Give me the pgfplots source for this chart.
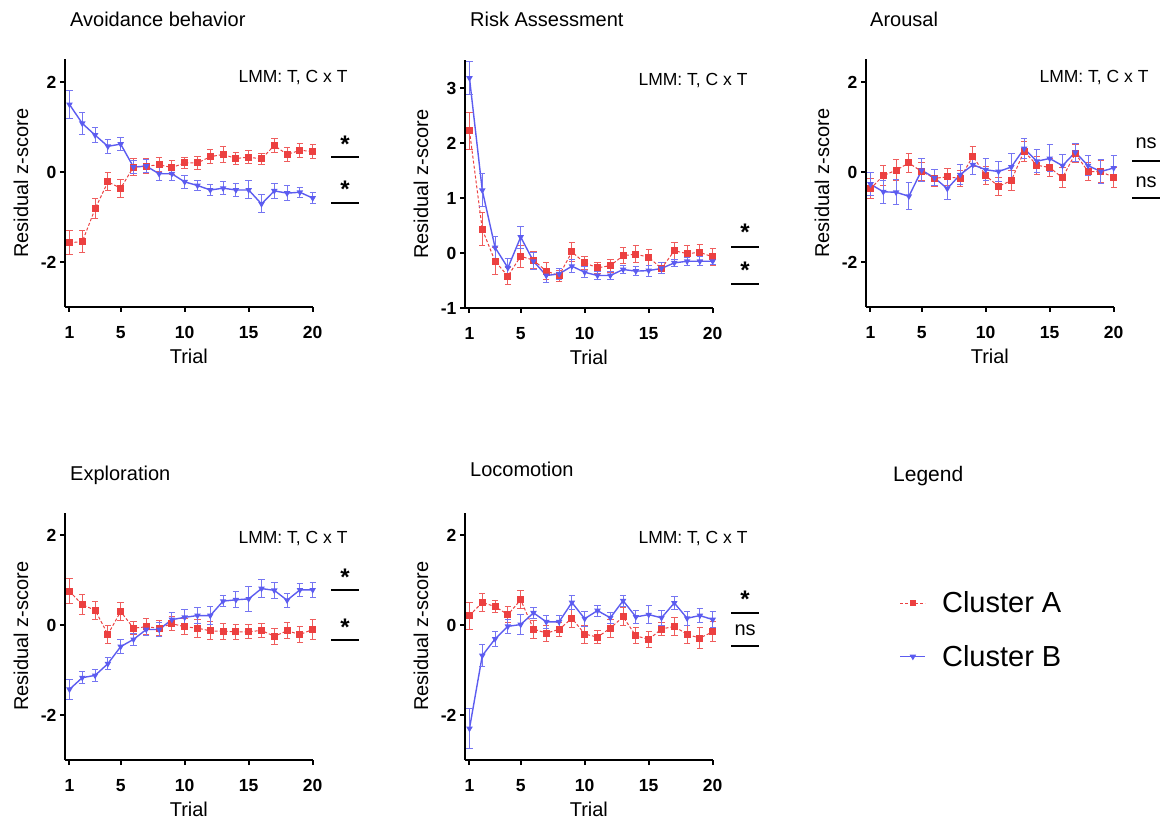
\documentclass[border=0pt]{standalone}
\usepackage{fontspec}
\setmainfont{Liberation Sans}
\usepackage{pgfplots}
\usepackage{pgfplotstable}
\pgfplotsset{compat=1.18}

\definecolor{clA}{RGB}{236,64,64}
\definecolor{clB}{RGB}{92,92,240}

% columns: trial, cluster A mean, A error, cluster B mean, B error
\pgfplotstableread{
t a ea b eb
1 -1.57 0.26 1.50 0.32
2 -1.55 0.24 1.08 0.25
3 -0.82 0.22 0.82 0.17
4 -0.22 0.20 0.57 0.15
5 -0.36 0.20 0.62 0.15
6 0.11 0.19 0.11 0.15
7 0.13 0.17 0.13 0.14
8 0.16 0.16 -0.04 0.15
9 0.10 0.15 -0.04 0.15
10 0.20 0.13 -0.22 0.15
11 0.20 0.15 -0.30 0.12
12 0.34 0.15 -0.40 0.13
13 0.39 0.17 -0.36 0.15
14 0.30 0.14 -0.40 0.15
15 0.33 0.15 -0.40 0.20
16 0.29 0.13 -0.71 0.20
17 0.59 0.15 -0.42 0.16
18 0.39 0.15 -0.47 0.16
19 0.48 0.16 -0.45 0.11
20 0.46 0.15 -0.58 0.12
}\avoid

\pgfplotstableread{
t a ea b eb
1 2.22 0.33 3.18 0.30
2 0.43 0.30 1.14 0.30
3 -0.15 0.25 0.10 0.20
4 -0.42 0.15 -0.27 0.17
5 -0.06 0.20 0.29 0.20
6 -0.13 0.15 -0.15 0.15
7 -0.33 0.15 -0.41 0.12
8 -0.41 0.10 -0.38 0.10
9 0.02 0.17 -0.24 0.12
10 -0.18 0.12 -0.35 0.10
11 -0.27 0.10 -0.41 0.08
12 -0.23 0.12 -0.41 0.08
13 -0.05 0.15 -0.30 0.08
14 -0.02 0.15 -0.33 0.08
15 -0.08 0.15 -0.32 0.10
16 -0.28 0.10 -0.28 0.10
17 0.04 0.15 -0.18 0.07
18 -0.01 0.15 -0.15 0.07
19 0.01 0.15 -0.15 0.08
20 -0.07 0.15 -0.15 0.06
}\risk

\pgfplotstableread{
t a ea b eb
1 -0.37 0.22 -0.27 0.25
2 -0.08 0.22 -0.44 0.26
3 0.04 0.24 -0.45 0.28
4 0.20 0.22 -0.54 0.30
5 0.01 0.20 0.04 0.25
6 -0.14 0.19 -0.13 0.18
7 -0.11 0.19 -0.37 0.24
8 -0.14 0.18 -0.06 0.22
9 0.35 0.22 0.16 0.22
10 -0.08 0.20 0.05 0.25
11 -0.32 0.20 0.01 0.22
12 -0.19 0.22 0.11 0.30
13 0.46 0.22 0.52 0.22
14 0.15 0.20 0.24 0.25
15 0.10 0.20 0.30 0.30
16 -0.13 0.22 0.14 0.25
17 0.41 0.20 0.44 0.20
18 0.01 0.20 0.14 0.22
19 0.01 0.25 0.01 0.26
20 -0.12 0.22 0.09 0.28
}\arousal

\pgfplotstableread{
t a ea b eb
1 0.75 0.28 -1.43 0.22
2 0.45 0.22 -1.17 0.14
3 0.33 0.20 -1.12 0.13
4 -0.21 0.20 -0.86 0.13
5 0.30 0.20 -0.48 0.16
6 -0.07 0.15 -0.32 0.13
7 -0.04 0.18 -0.10 0.13
8 -0.07 0.17 -0.10 0.15
9 0.03 0.15 0.12 0.15
10 -0.04 0.18 0.17 0.17
11 -0.07 0.20 0.21 0.17
12 -0.13 0.20 0.21 0.20
13 -0.14 0.18 0.53 0.12
14 -0.15 0.17 0.56 0.18
15 -0.15 0.16 0.58 0.27
16 -0.12 0.16 0.81 0.20
17 -0.25 0.18 0.77 0.18
18 -0.13 0.18 0.55 0.15
19 -0.21 0.18 0.78 0.15
20 -0.10 0.22 0.78 0.17
}\explor

\pgfplotstableread{
t a ea b eb
1 0.21 0.30 -2.30 0.45
2 0.50 0.20 -0.68 0.25
3 0.41 0.13 -0.31 0.17
4 0.23 0.18 -0.03 0.15
5 0.56 0.20 0.01 0.22
6 -0.09 0.20 0.27 0.12
7 -0.18 0.18 0.07 0.15
8 -0.10 0.15 0.07 0.15
9 0.15 0.20 0.50 0.15
10 -0.20 0.20 0.14 0.17
11 -0.27 0.15 0.32 0.12
12 -0.07 0.20 0.16 0.12
13 0.18 0.20 0.54 0.12
14 -0.24 0.18 0.18 0.15
15 -0.32 0.17 0.23 0.20
16 -0.09 0.15 0.16 0.17
17 -0.03 0.20 0.49 0.15
18 -0.21 0.20 0.15 0.15
19 -0.29 0.23 0.21 0.15
20 -0.15 0.22 0.12 0.18
}\locom

\pgfplotsset{
  panel/.style={
    scale only axis, width=247.7pt, height=247.5pt,
    anchor=south west, clip=false,
    xmin=0.65, xmax=20, xtick={1,5,10,15,20},
    axis lines*=left,
    axis line style={line width=2.6pt, black},
    tick align=outside, major tick length=5pt,
    every tick/.style={line width=2pt, black},
    tick label style={font=\fontsize{17.5}{17.5}\selectfont\bfseries},
    /pgf/number format/assume math mode=true,
    xticklabel style={yshift=-11pt},
    xlabel={Trial}, ylabel={Residual z-score},
    every axis x label/.style={at={(axis description cs:0.5,0)}, anchor=center, yshift=-49pt,
      font=\fontsize{20}{20}\selectfont},
    every axis y label/.style={at={(axis description cs:0,0.5)}, xshift=-44pt, anchor=center, rotate=90,
      font=\fontsize{20}{20}\selectfont},
    legend image code/.code={\draw[mark repeat=2,mark phase=2,#1,mark size=2.4pt] plot coordinates {(0pt,0pt) (12.5pt,0pt) (25pt,0pt)};},
  },
  clA/.style={color=clA, line width=1pt, dash pattern=on 3pt off 2pt,
    mark=square*, mark size=3pt, mark options={solid},
    error bars/.cd, y dir=both, y explicit,
    error bar style={solid, line width=1pt, clA!85},
    error mark options={rotate=90, mark size=3.2pt, line width=1pt, clA!85}},
  clB/.style={color=clB, line width=1.4pt, solid,
    mark=triangle*, mark size=2.4pt, mark options={rotate=180},
    error bars/.cd, y dir=both, y explicit,
    error bar style={line width=1pt, clB!85},
    error mark options={rotate=90, mark size=3.2pt, line width=1pt, clB!85}},
}

\newcommand{\lmm}[1]{\node[anchor=east, inner sep=0pt, font=\fontsize{17.5}{17.5}\selectfont] at (axis cs:22.73,#1) {LMM: T, C x T};}
\newcommand{\sigline}[1]{\draw[line width=2pt] (axis cs:21.46,#1) -- (axis cs:23.6,#1);}
\newcommand{\sigstar}[1]{\node[inner sep=0pt, font=\fontsize{24}{24}\selectfont\bfseries] at (axis cs:22.53,#1) {*};}
\newcommand{\signs}[1]{\node[inner sep=0pt, font=\fontsize{20}{20}\selectfont] at (axis cs:22.53,#1) {ns};}

\begin{document}
\begin{tikzpicture}[x=1pt,y=1pt]
\useasboundingbox (0,0) rectangle (1166,822);

% Avoidance behavior
\begin{axis}[panel, at={(65pt,515pt)}, ymin=-3, ymax=2.5, ytick={-2,0,2}]
\addplot[clA] table[x=t, y=a, y error=ea] {\avoid};
\addplot[clB] table[x=t, y=b, y error=eb] {\avoid};
\lmm{2.1}
\sigline{0.33} \sigstar{0.62}
\sigline{-0.69} \sigstar{-0.38}
\end{axis}

% Risk Assessment
\begin{axis}[panel, at={(465pt,514pt)}, ymin=-1, ymax=3.5, ytick={-1,0,1,2,3}]
\addplot[clA] table[x=t, y=a, y error=ea] {\risk};
\addplot[clB] table[x=t, y=b, y error=eb] {\risk};
\lmm{3.14}
\sigline{0.11} \sigstar{0.37}
\sigline{-0.57} \sigstar{-0.32}
\end{axis}

% Arousal
\begin{axis}[panel, at={(866pt,515pt)}, ymin=-3, ymax=2.5, ytick={-2,0,2}]
\addplot[clA] table[x=t, y=a, y error=ea] {\arousal};
\addplot[clB] table[x=t, y=b, y error=eb] {\arousal};
\lmm{2.1}
\sigline{0.25} \signs{0.64}
\sigline{-0.58} \signs{-0.22}
\end{axis}

% Exploration
\begin{axis}[panel, at={(65pt,62pt)}, ymin=-3, ymax=2.5, ytick={-2,0,2}]
\addplot[clA] table[x=t, y=a, y error=ea] {\explor};
\addplot[clB] table[x=t, y=b, y error=eb] {\explor};
\lmm{1.93}
\sigline{0.78} \sigstar{1.07}
\sigline{-0.33} \sigstar{-0.04}
\end{axis}

% Locomotion
\begin{axis}[panel, at={(465pt,62pt)}, ymin=-3, ymax=2.5, ytick={-2,0,2},
  legend style={at={(axis description cs:1.754,0.526)}, anchor=west, draw=none, fill=none,
    font=\fontsize{29}{29}\selectfont, row sep=27pt, column sep=14pt, inner sep=0pt},
  legend cell align=left]
\addplot[clA] table[x=t, y=a, y error=ea] {\locom};
\addlegendentry{Cluster A}
\addplot[clB] table[x=t, y=b, y error=eb] {\locom};
\addlegendentry{Cluster B}
\lmm{1.93}
\sigline{0.27} \sigstar{0.58}
\sigline{-0.46} \signs{-0.11}
\end{axis}

% panel titles
\begin{scope}[every node/.style={anchor=base west, inner sep=0pt, font=\fontsize{20}{20}\selectfont}]
\node at (70,795) {Avoidance behavior};
\node at (470,795) {Risk Assessment};
\node at (870,795) {Arousal};
\node at (70,341) {Exploration};
\node at (470,345) {Locomotion};
\node[font=\fontsize{21}{21}\selectfont] at (893,340) {Legend};
\end{scope}
\end{tikzpicture}
\end{document}
